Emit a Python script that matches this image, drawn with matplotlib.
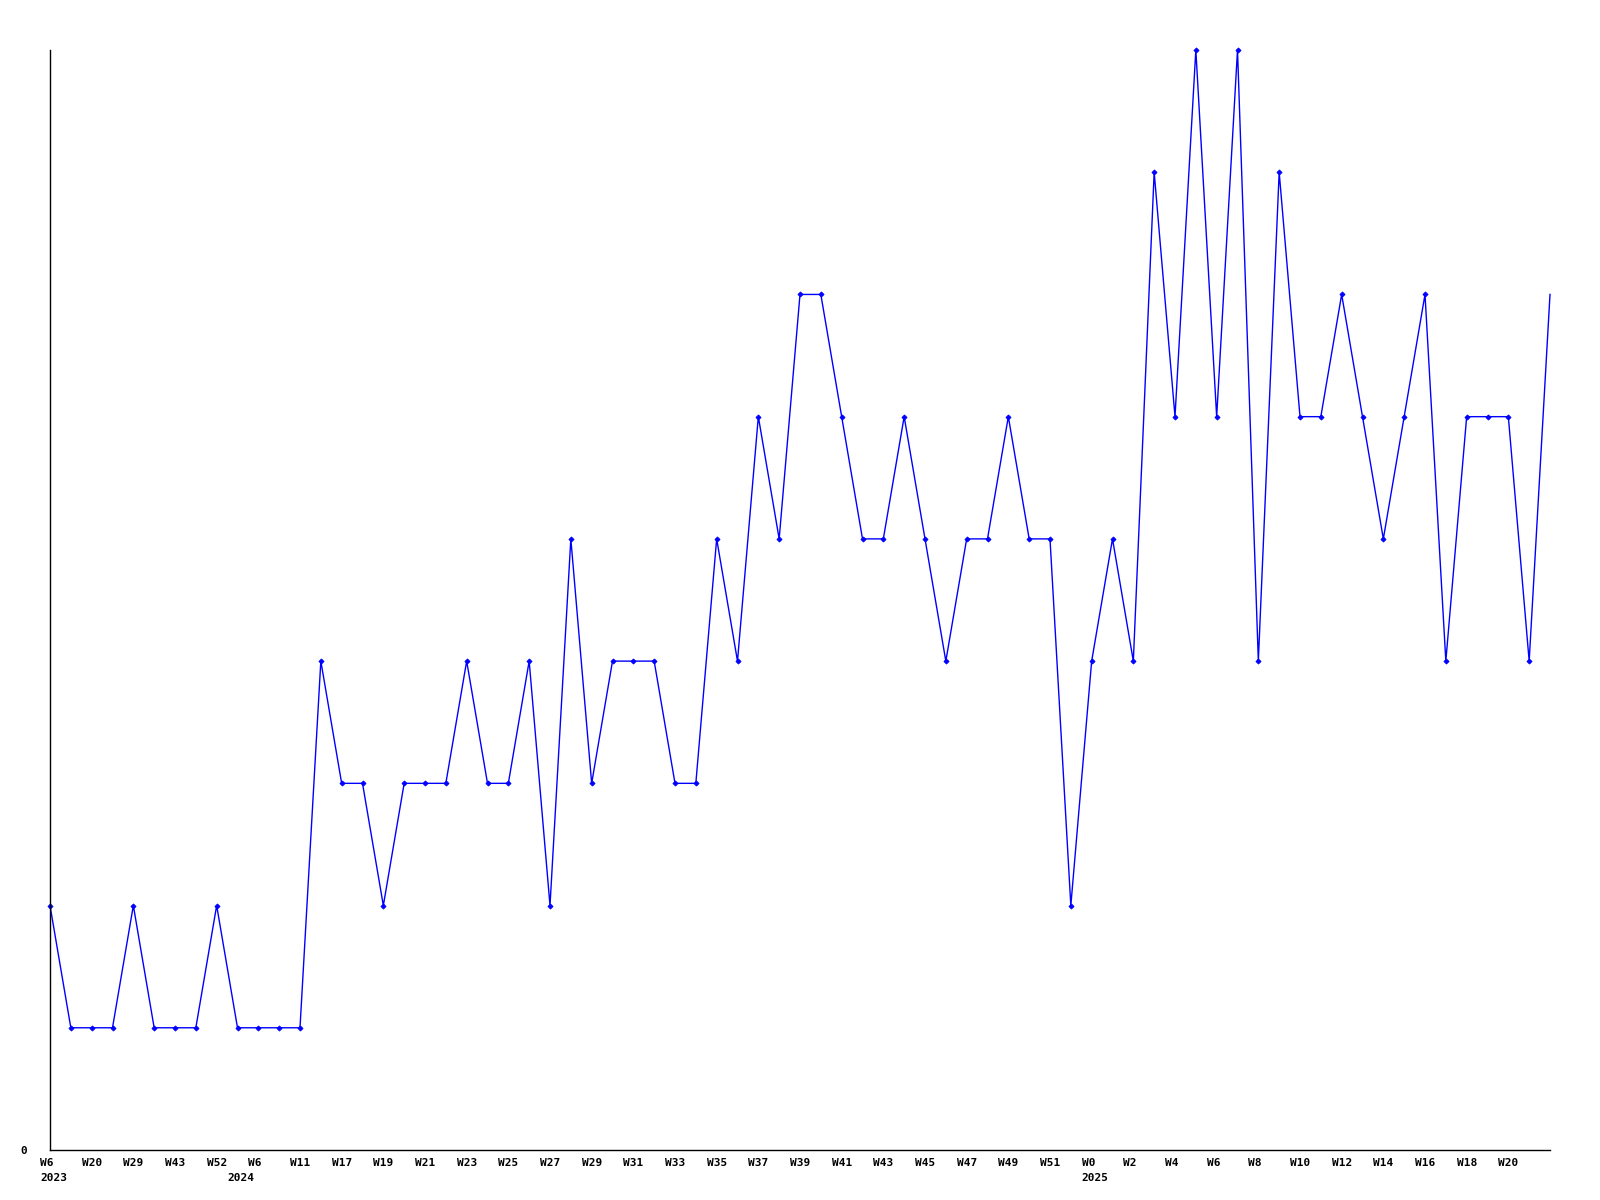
import matplotlib
matplotlib.use("Agg")
import matplotlib.pyplot as plt

# Data
values = [2, 1, 1, 1, 2, 1, 1, 1, 2, 1, 1, 1, 1, 4, 3, 3, 2, 3, 3, 3,
          4, 3, 3, 4, 2, 5, 3, 4, 4, 4, 3, 3, 5, 4, 6, 5, 7, 7, 6, 5,
          5, 6, 5, 4, 5, 5, 6, 5, 5, 2, 4, 5, 4, 8, 6, 9, 6, 9, 4, 8,
          6, 6, 7, 6, 5, 6, 7, 4, 6, 6, 6, 4, 7]
tick_labels = ["W6", "W20", "W29", "W43", "W52", "W6", "W11", "W17", "W19",
               "W21", "W23", "W25", "W27", "W29", "W31", "W33", "W35", "W37",
               "W39", "W41", "W43", "W45", "W47", "W49", "W51", "W0", "W2",
               "W4", "W6", "W8", "W10", "W12", "W14", "W16", "W18", "W20"]
tick_step = 2
year_labels = ["2023", "2024", "2025"]
year_positions = [0, 9, 50]

fig = plt.figure(figsize=(16, 12), dpi=100)
ax = fig.add_axes([50/1600, 50/1200, 1500/1600, 1100/1200])
x = list(range(len(values)))
ax.plot(x, values, color="#0000ff", linewidth=1.0, marker="D", markersize=2.6,
        markeredgewidth=0.6, markevery=list(range(len(values) - 1)), clip_on=False)
ax.set_xlim(0, len(values) - 1)
ax.set_ylim(0, max(values))
for s in ["top", "right"]:
    ax.spines[s].set_visible(False)
ax.spines["left"].set_linewidth(1.0)
ax.spines["bottom"].set_linewidth(1.0)
ax.set_xticks([])
ax.set_yticks([])

fkw = dict(family="DejaVu Sans Mono", fontweight="bold", fontsize=8, color="black")
for i, lab in enumerate(tick_labels):
    ax.annotate(lab, xy=(i * tick_step, 0), xycoords=("data", "axes fraction"),
                xytext=(-10, -8), textcoords="offset pixels", ha="left", va="top", **fkw)
for pos, lab in zip(year_positions, year_labels):
    ax.annotate(lab, xy=(pos, 0), xycoords=("data", "axes fraction"),
                xytext=(-10, -23), textcoords="offset pixels", ha="left", va="top", **fkw)
ax.annotate("0", xy=(0, 0), xycoords="axes fraction", xytext=(-30, -1),
            textcoords="offset pixels", ha="left", va="center", **fkw)

fig.savefig("out.png", dpi=100)
